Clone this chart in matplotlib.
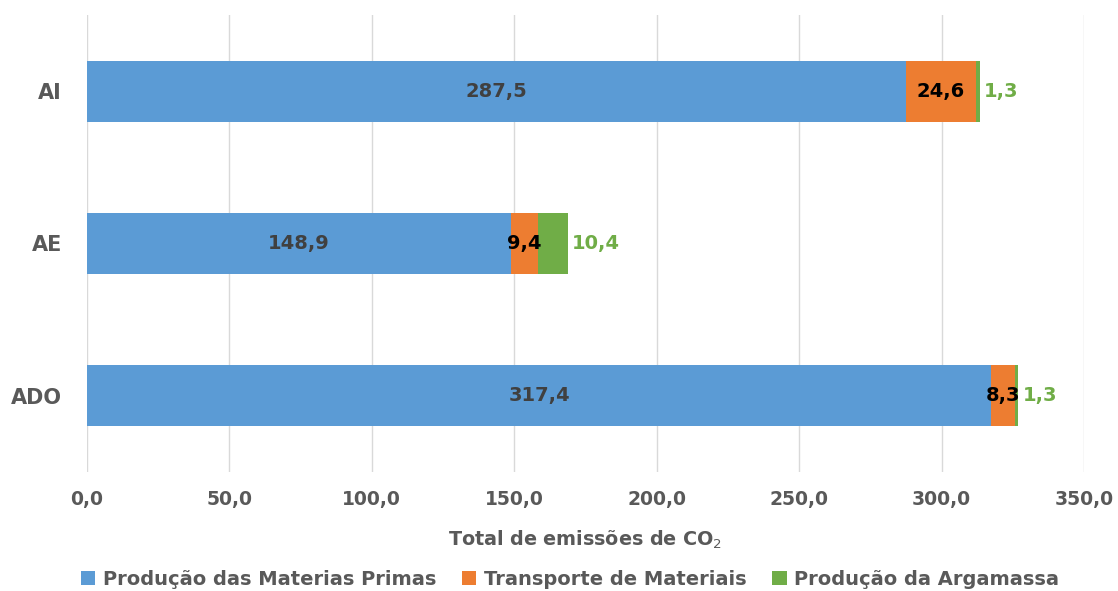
import numpy as np
from matplotlib import pyplot as plt

categories = ['ADO', 'AE', 'AI']
materias_primas = [317.4, 148.9, 287.5]
transporte = [8.3, 9.4, 24.6]
argamassa = [1.3, 10.4, 1.3]
series_labels = ['Produção das Materias Primas', 'Transporte de Materiais', 'Produção da Argamassa']
xticks = [0, 50, 100, 150, 200, 250, 300, 350]

plt.rcParams['font.family'] = ['DejaVu Sans']

colors = ['#5B9BD5', '#ED7D31', '#70AD47']
gray = '#595959'


def fmt(v):
    return ('%.1f' % v).replace('.', ',')


fig = plt.figure(figsize=(11.18, 5.91), dpi=100)
ax = fig.add_axes([0.0778, 0.2014, 0.8918, 0.7732])

y = np.arange(len(categories))
h = 0.4
left = np.zeros(len(categories))
for vals, c, lab in zip([materias_primas, transporte, argamassa], colors, series_labels):
    ax.barh(y, vals, h, left=left, color=c, label=lab, zorder=2)
    left = left + np.array(vals)

# data labels
for i in range(len(categories)):
    ax.text(materias_primas[i] / 2, y[i], fmt(materias_primas[i]), ha='center', va='center',
            color='#404040', fontsize=14, fontweight='bold', zorder=3)
    ax.text(materias_primas[i] + transporte[i] / 2, y[i], fmt(transporte[i]), ha='center', va='center',
            color='black', fontsize=14, fontweight='bold', zorder=3)
    ax.text(left[i] + 1.5, y[i], fmt(argamassa[i]), ha='left', va='center',
            color='#70AD47', fontsize=14, fontweight='bold', zorder=3)

ax.set_xlim(0, 350)
ax.set_ylim(-0.5, 2.5)
ax.set_xticks(xticks)
ax.set_xticklabels([fmt(v) for v in xticks])
ax.set_yticks(y)
ax.set_yticklabels(categories)
for t in ax.get_xticklabels():
    t.set_fontsize(13.5)
    t.set_fontweight('bold')
    t.set_color(gray)
for t in ax.get_yticklabels():
    t.set_fontsize(15)
    t.set_fontweight('bold')
    t.set_color(gray)
ax.tick_params(axis='x', length=0, pad=13)
ax.tick_params(axis='y', length=0, pad=18)
ax.grid(axis='x', color='#d9d9d9', linewidth=1, zorder=0)
for s in ax.spines.values():
    s.set_visible(False)
ax.set_xlabel('Total de emissões de CO$_2$', fontsize=13.8, fontweight='bold', color=gray, labelpad=14)

fig.legend(loc='center', ncol=3, frameon=False, bbox_to_anchor=(0.51, 0.02),
           prop={'size': 14, 'weight': 'bold'}, labelcolor=gray,
           handlelength=0.75, handleheight=0.75, handletextpad=0.4, columnspacing=1.3)

fig.savefig('out.png', dpi=100)
